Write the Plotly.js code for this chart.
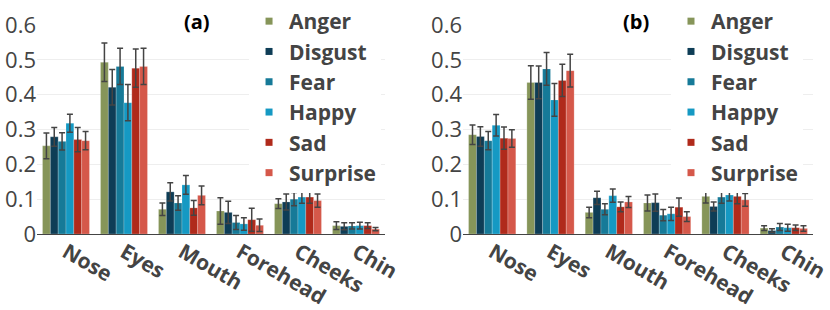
<!DOCTYPE html>
<html>
<head>
<meta charset="utf-8">
<script src="https://cdn.plot.ly/plotly-3.0.1.min.js"></script>
<style>html,body{margin:0;padding:0;background:#fff;}</style>
</head>
<body>
<div id="chart" style="width:830px;height:310px;"></div>
<script>
// Categories and series
const regions = ["Nose", "Eyes", "Mouth", "Forehead", "Cheeks", "Chin"];
const emotions = ["Anger", "Disgust", "Fear", "Happy", "Sad", "Surprise"];
const colors = ["#869559", "#0e3d56", "#167a98", "#1599c3", "#b02a1b", "#d5584a"];

// Panel (a) means
const aAnger    = [0.253, 0.493, 0.071, 0.066, 0.087, 0.024];
const aDisgust  = [0.279, 0.421, 0.121, 0.062, 0.092, 0.022];
const aFear     = [0.266, 0.481, 0.089, 0.033, 0.100, 0.023];
const aHappy    = [0.318, 0.377, 0.141, 0.029, 0.106, 0.024];
const aSad      = [0.271, 0.476, 0.075, 0.041, 0.106, 0.024];
const aSurprise = [0.268, 0.481, 0.111, 0.025, 0.096, 0.014];
// Panel (a) error bars
const aAngerErr    = [0.037, 0.055, 0.018, 0.038, 0.014, 0.011];
const aDisgustErr  = [0.027, 0.051, 0.026, 0.032, 0.023, 0.010];
const aFearErr     = [0.025, 0.052, 0.021, 0.020, 0.019, 0.009];
const aHappyErr    = [0.026, 0.052, 0.027, 0.018, 0.018, 0.010];
const aSadErr      = [0.035, 0.055, 0.021, 0.033, 0.018, 0.008];
const aSurpriseErr = [0.026, 0.052, 0.027, 0.018, 0.019, 0.005];

// Panel (b) means
const bAnger    = [0.285, 0.435, 0.062, 0.089, 0.108, 0.017];
const bDisgust  = [0.280, 0.435, 0.104, 0.090, 0.079, 0.010];
const bFear     = [0.268, 0.474, 0.071, 0.054, 0.106, 0.020];
const bHappy    = [0.312, 0.385, 0.110, 0.058, 0.112, 0.018];
const bSad      = [0.275, 0.441, 0.078, 0.077, 0.108, 0.018];
const bSurprise = [0.274, 0.469, 0.092, 0.050, 0.098, 0.016];
// Panel (b) error bars
const bAngerErr    = [0.028, 0.048, 0.015, 0.023, 0.019, 0.007];
const bDisgustErr  = [0.028, 0.047, 0.019, 0.025, 0.013, 0.005];
const bFearErr     = [0.026, 0.047, 0.016, 0.016, 0.018, 0.010];
const bHappyErr    = [0.031, 0.047, 0.019, 0.019, 0.017, 0.010];
const bSadErr      = [0.032, 0.046, 0.014, 0.026, 0.021, 0.008];
const bSurpriseErr = [0.025, 0.047, 0.016, 0.014, 0.018, 0.008];

const panelA = [aAnger, aDisgust, aFear, aHappy, aSad, aSurprise];
const panelAErr = [aAngerErr, aDisgustErr, aFearErr, aHappyErr, aSadErr, aSurpriseErr];
const panelB = [bAnger, bDisgust, bFear, bHappy, bSad, bSurprise];
const panelBErr = [bAngerErr, bDisgustErr, bFearErr, bHappyErr, bSadErr, bSurpriseErr];

const traces = [];
function addPanel(vals, errs, xa, ya) {
  vals.forEach((v, i) => {
    traces.push({
      type: "bar", name: emotions[i], x: regions, y: v,
      xaxis: xa, yaxis: ya, showlegend: false,
      marker: {color: colors[i], line: {width: 0.6, color: "rgba(255,255,255,0.35)"}},
      error_y: {type: "data", array: errs[i], visible: true, color: "#444", thickness: 1.5, width: 3}
    });
  });
}
addPanel(panelA, panelAErr, "x", "y");
addPanel(panelB, panelBErr, "x2", "y2");

// legend entries (one legend per panel)
["legend", "legend2"].forEach((lg, k) => {
  emotions.forEach((e, i) => {
    traces.push({
      type: "scatter", mode: "markers", name: e, x: [null], y: [null],
      xaxis: k ? "x2" : "x", yaxis: k ? "y2" : "y",
      legend: lg, showlegend: true,
      marker: {symbol: "square", size: 7, color: colors[i]}
    });
  });
});

const tickFontX = {family: "Open Sans", size: 21, color: "#444", weight: "bold"};
const tickFontY = {family: "Open Sans", size: 22, color: "#444"};
const yax = {
  range: [0, 0.6], dtick: 0.1, tick0: 0, tickfont: tickFontY,
  gridcolor: "#eeeeee", zeroline: false, showline: false, ticks: "",
  automargin: false, domain: [0, 0.897]
};
const xax = {
  tickangle: 30, tickfont: tickFontX, showline: true, linecolor: "#444",
  linewidth: 1, ticks: "", showgrid: false, automargin: false,
  ticklabelstandoff: -3
};
const legendBase = {
  font: {family: "Open Sans", size: 21, color: "#444", weight: "bold"},
  bgcolor: "#fff", yanchor: "top", xanchor: "left", y: 1, maxheight: 300
};
const panelLabelFont = {family: "Open Sans", size: 20, color: "#000", weight: "bold"};

const layout = {
  width: 830, height: 310,
  margin: {l: 37, r: 10, t: 1, b: 76},
  paper_bgcolor: "#fff", plot_bgcolor: "#fff",
  barmode: "group", bargap: 0.19, bargroupgap: 0,
  font: {family: "Open Sans", color: "#444"},
  xaxis: Object.assign({}, xax, {domain: [0, 0.4444], anchor: "y"}),
  yaxis: Object.assign({}, yax, {anchor: "x"}),
  xaxis2: Object.assign({}, xax, {domain: [0.5441, 0.991], anchor: "y2"}),
  yaxis2: Object.assign({}, yax, {anchor: "x2"}),
  legend: Object.assign({}, legendBase, {x: 0.2708}),
  legend2: Object.assign({}, legendBase, {x: 0.8097}),
  annotations: [
    {text: "(a)", xref: "paper", yref: "paper", x: 0.2043, y: 0.9099,
     xanchor: "center", yanchor: "middle", showarrow: false, font: panelLabelFont},
    {text: "(b)", xref: "paper", yref: "paper", x: 0.765, y: 0.9099,
     xanchor: "center", yanchor: "middle", showarrow: false, font: panelLabelFont}
  ],
  showlegend: true
};

Plotly.newPlot("chart", traces, layout, {staticPlot: true, displayModeBar: false});
</script>
</body>
</html>
